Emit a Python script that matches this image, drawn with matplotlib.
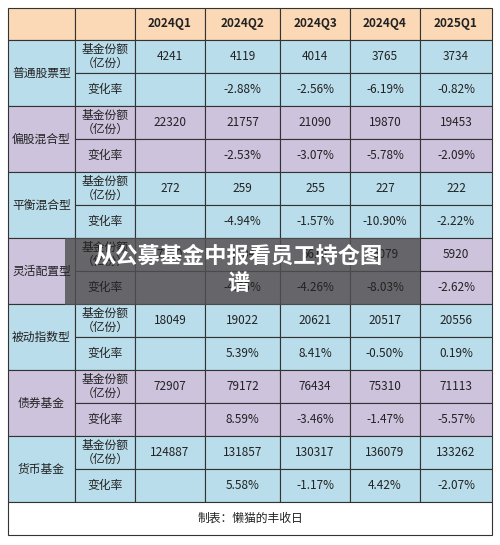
import matplotlib
matplotlib.use("Agg")
import matplotlib.pyplot as plt
from matplotlib.patches import Rectangle

plt.rcParams['font.family'] = ['Noto Sans CJK SC', 'DejaVu Sans']

quarters = ["2024Q1", "2024Q2", "2024Q3", "2024Q4", "2025Q1"]
categories = ["普通股票型", "偏股混合型", "平衡混合型", "灵活配置型", "被动指数型", "债券基金", "货币基金"]
shares = [
    ["4241", "4119", "4014", "3765", "3734"],
    ["22320", "21757", "21090", "19870", "19453"],
    ["272", "259", "255", "227", "222"],
    ["7250", "6904", "6610", "6079", "5920"],
    ["18049", "19022", "20621", "20517", "20556"],
    ["72907", "79172", "76434", "75310", "71113"],
    ["124887", "131857", "130317", "136079", "133262"],
]
changes = [
    ["", "-2.88%", "-2.56%", "-6.19%", "-0.82%"],
    ["", "-2.53%", "-3.07%", "-5.78%", "-2.09%"],
    ["", "-4.94%", "-1.57%", "-10.90%", "-2.22%"],
    ["", "-4.75%", "-4.26%", "-8.03%", "-2.62%"],
    ["", "5.39%", "8.41%", "-0.50%", "0.19%"],
    ["", "8.59%", "-3.46%", "-1.47%", "-5.57%"],
    ["", "5.58%", "-1.17%", "4.42%", "-2.07%"],
]
source = "制表：懒猫的丰收日"
title = "从公募基金中报看员工持仓图\n谱"

W, H = 500, 545
fig = plt.figure(figsize=(W/100, H/100), dpi=100)
ax = fig.add_axes([0, 0, 1, 1])
ax.set_xlim(0, W); ax.set_ylim(H, 0); ax.axis('off')

cols = [8, 75, 135, 205, 280, 350, 420, 492]
top, hdr = 8, 40
gh = 66
blue, purple, peach = "#B9DDEA", "#CDC3DD", "#FCD9B6"
lc = "#333333"

def rect(x0, y0, x1, y1, fc):
    ax.add_patch(Rectangle((x0, y0), x1-x0, y1-y0, facecolor=fc, edgecolor=lc, lw=0.8))

for j in range(len(cols)-1):
    rect(cols[j], top, cols[j+1], hdr, peach)
for j, q in enumerate(quarters):
    ax.text((cols[j+2]+cols[j+3])/2, (top+hdr)/2, q, ha='center', va='center', fontsize=8.5, fontweight='bold', color="#222")

for i, cat in enumerate(categories):
    y0 = hdr + i*gh
    ym = y0 + gh/2
    fc = blue if i % 2 == 0 else purple
    rect(cols[0], y0, cols[1], y0+gh, fc)
    ax.text((cols[0]+cols[1])/2, ym, cat, ha='center', va='center', fontsize=8.5, color="#222")
    for r, (lab, vals) in enumerate([("基金份额\n（亿份）", shares[i]), ("变化率", changes[i])]):
        a, b = y0 + r*gh/2, y0 + (r+1)*gh/2
        for j in range(1, len(cols)-1):
            rect(cols[j], a, cols[j+1], b, fc)
        ax.text((cols[1]+cols[2])/2, (a+b)/2, lab, ha='center', va='center', fontsize=8.5, color="#222", linespacing=1.05)
        for j, v in enumerate(vals):
            ax.text((cols[j+2]+cols[j+3])/2, (a+b)/2, v, ha='center', va='center', fontsize=8.5, color="#222")

fy0 = hdr + len(categories)*gh
rect(cols[0], fy0, cols[-1], 535, "white")
ax.text(W/2, (fy0+535)/2, source, ha='center', va='center', fontsize=8.5, color="#222")

ax.add_patch(Rectangle((65, 238), 355, 67, facecolor="#505050", alpha=0.82, edgecolor='none'))
ax.text(238, 270, title, ha='center', va='center', fontsize=16, fontweight='bold', color='white', linespacing=1.2)

fig.savefig("out.png", dpi=100)
